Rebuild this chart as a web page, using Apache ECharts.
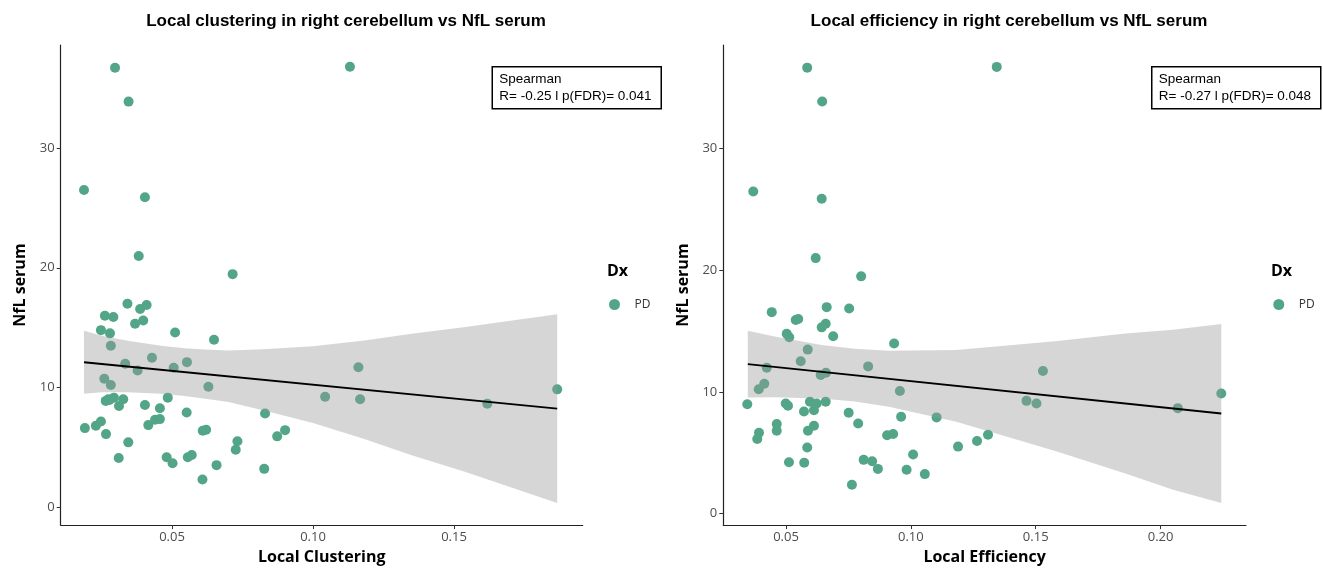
<!DOCTYPE html>
<html>
<head>
<meta charset="utf-8">
<script src="https://cdn.jsdelivr.net/npm/echarts@6/dist/echarts.min.js"></script>
<style>
  html, body { margin: 0; padding: 0; background: #fff; }
  #chart { width: 1323px; height: 570px; }
</style>
</head>
<body>
<div id="chart"></div>
<script>
// Left panel: local clustering (x) vs NfL serum (y)
const clusteringX = [0.0342, 0.0387, 0.0410, 0.0262, 0.0292, 0.0369, 0.0398, 0.0248, 0.0280, 0.0511,
    0.0649, 0.0283, 0.0334, 0.0429, 0.0553, 0.0378, 0.0506, 0.0260, 0.0283, 0.0629,
    0.0265, 0.0274, 0.0294, 0.0327, 0.0312, 0.0485, 0.0404, 0.0457, 0.0552, 0.0830,
    0.0440, 0.0457, 0.0416, 0.0191, 0.0230, 0.0248, 0.0266, 0.0609, 0.0621, 0.0873,
    0.0901, 0.0345, 0.0732, 0.0726, 0.0311, 0.0481, 0.0502, 0.0556, 0.0570, 0.0658,
    0.0827, 0.0608, 0.1043, 0.1161, 0.1167, 0.1618, 0.1866, 0.0298, 0.0346, 0.0188,
    0.0404, 0.0382, 0.0715, 0.1131, 0.0278];
const clusteringNfl = [17.0, 16.57, 16.9, 16.0, 15.9, 15.33, 15.6, 14.8, 14.53, 14.6,
    14.0, 13.5, 12.0, 12.49, 12.13, 11.43, 11.66, 10.75, 10.22, 10.08,
    8.9, 9.03, 9.17, 9.03, 8.48, 9.17, 8.56, 8.28, 7.93, 7.85,
    7.32, 7.38, 6.88, 6.63, 6.83, 7.18, 6.13, 6.41, 6.49, 5.94,
    6.46, 5.44, 5.53, 4.83, 4.14, 4.2, 3.7, 4.2, 4.39, 3.54,
    3.23, 2.35, 9.25, 11.71, 9.03, 8.67, 9.86, 36.68, 33.86, 26.49,
    25.88, 20.99, 19.47, 36.76, 8.98];

// lm fit and 95% band
const clusteringFitX = [0.0188, 0.1866];
const clusteringFitY = [12.12, 8.26];
const clusteringBandX = [0.0188, 0.025, 0.0343, 0.0462, 0.0545, 0.0618, 0.07, 0.0822, 0.1, 0.1182, 0.135, 0.1541, 0.1866];
const clusteringBandLow = [9.49, 9.63, 9.61, 9.49, 9.3, 9.08, 8.8, 8.11, 7.05, 5.73, 4.37, 2.96, 0.39];
const clusteringBandHigh = [14.75, 14.33, 13.91, 13.49, 13.28, 13.18, 13.1, 13.21, 13.45, 13.93, 14.5, 15.06, 16.13];

// Right panel: local efficiency (x) vs NfL serum (y)
const efficiencyX = [0.0443, 0.0663, 0.0753, 0.0539, 0.0549, 0.0643, 0.0659, 0.0503, 0.0513, 0.0689,
    0.0933, 0.0587, 0.0423, 0.0559, 0.0829, 0.0639, 0.0660, 0.0413, 0.0391, 0.0956,
    0.0345, 0.0499, 0.0508, 0.0596, 0.0623, 0.0659, 0.0572, 0.0612, 0.0751, 0.0961,
    0.1103, 0.0789, 0.0463, 0.0463, 0.0612, 0.0588, 0.0392, 0.0385, 0.0905, 0.0929,
    0.1189, 0.0585, 0.1265, 0.1309, 0.0512, 0.0573, 0.0811, 0.0845, 0.0868, 0.1009,
    0.0983, 0.1056, 0.0764, 0.1529, 0.1463, 0.1503, 0.2069, 0.2243, 0.0585, 0.0645,
    0.0369, 0.0643, 0.0619, 0.0801, 0.1344];
const efficiencyNfl = [16.55, 16.96, 16.85, 15.9, 15.98, 15.3, 15.6, 14.78, 14.48, 14.57,
    13.97, 13.47, 11.98, 12.52, 12.09, 11.38, 11.57, 10.67, 10.21, 10.07,
    8.98, 9.04, 8.85, 9.18, 9.04, 9.18, 8.39, 8.49, 8.28, 7.95,
    7.9, 7.4, 7.35, 6.81, 7.22, 6.81, 6.64, 6.12, 6.43, 6.53,
    5.5, 5.42, 5.96, 6.48, 4.22, 4.17, 4.41, 4.3, 3.67, 4.85,
    3.6, 3.24, 2.37, 11.71, 9.26, 9.04, 8.66, 9.86, 36.64, 33.86,
    26.46, 25.86, 20.99, 19.49, 36.7];

const efficiencyFitX = [0.0347, 0.2243];
const efficiencyFitY = [12.28, 8.22];
const efficiencyBandX = [0.0347, 0.045, 0.0642, 0.0775, 0.0912, 0.1182, 0.1588, 0.1859, 0.205, 0.2243];
const efficiencyBandLow = [9.53, 9.56, 9.45, 9.2, 8.77, 7.54, 5.07, 3.29, 1.95, 0.87];
const efficiencyBandHigh = [15.03, 14.56, 13.85, 13.55, 13.37, 13.44, 14.17, 14.79, 15.1, 15.57];

// Tick values
const clusteringTicks = [0.05, 0.10, 0.15];
const efficiencyTicks = [0.05, 0.10, 0.15, 0.20];
const nflTicks = [0, 10, 20, 30];

const POINT_COLOR = '#52A687';
const BAND_FILL = 'rgba(153,153,153,0.4)';
const TICK_FONT = { fontFamily: 'Open Sans', fontSize: 13, color: '#4D4D4D' };
const AXIS_TITLE = { fontFamily: 'Open Sans', fontSize: 16, fontWeight: 'bold', color: '#000' };
const TITLE_FONT = { fontFamily: 'Liberation Sans', fontSize: 17, fontWeight: 'bold', color: '#000' };

const pairs = (xs, ys) => xs.map((x, i) => [x, ys[i]]);

function bandRenderer(bx, lo, hi) {
    return (params, api) => {
        if (params.dataIndex !== 0) return null;
        const pts = [];
        bx.forEach((x, i) => pts.push(api.coord([x, hi[i]])));
        for (let i = bx.length - 1; i >= 0; i--) pts.push(api.coord([bx[i], lo[i]]));
        return { type: 'polygon', shape: { points: pts }, style: { fill: BAND_FILL } };
    };
}

function xAxisFor(idx, name, min, max, ticks) {
    return {
        gridIndex: idx, type: 'value', min: min, max: max,
        name: name, nameLocation: 'middle', nameGap: 22, nameTextStyle: AXIS_TITLE,
        axisLine: { onZero: false, lineStyle: { color: '#222', width: 1.2 } },
        axisTick: { show: true, length: 4, customValues: ticks, lineStyle: { color: '#333' } },
        axisLabel: { customValues: ticks, margin: 6, formatter: v => v.toFixed(2), ...TICK_FONT },
        splitLine: { show: false }
    };
}

function yAxisFor(idx, min, max) {
    return {
        gridIndex: idx, type: 'value', min: min, max: max,
        name: 'NfL serum', nameLocation: 'middle', nameGap: 32, nameTextStyle: AXIS_TITLE,
        axisLine: { show: true, onZero: false, lineStyle: { color: '#222', width: 1.2 } },
        axisTick: { show: true, length: 4, customValues: nflTicks, lineStyle: { color: '#333' } },
        axisLabel: { customValues: nflTicks, margin: 6, ...TICK_FONT },
        splitLine: { show: false }
    };
}

function legendFor(left) {
    return {
        data: ['PD'], left: left, top: 293.5, icon: 'circle',
        itemWidth: 30, itemHeight: 11, selectedMode: false,
        textStyle: { fontFamily: 'Open Sans', fontSize: 12, color: '#333' }
    };
}

function statBox(x, label) {
    return {
        type: 'group', left: x, top: 66,
        children: [
            { type: 'rect', shape: { x: 0, y: 0, width: 169, height: 42 },
              style: { fill: '#fff', stroke: '#000', lineWidth: 1.5 } },
            { type: 'text', x: 7, y: 6,
              style: { text: 'Spearman', font: '13.5px "Liberation Sans"', fill: '#000' } },
            { type: 'text', x: 7, y: 23,
              style: { text: label, font: '13.5px "Liberation Sans"', fill: '#000' } }
        ]
    };
}

const chart = echarts.init(document.getElementById('chart'));
chart.setOption({
    animation: false,
    backgroundColor: '#fff',
    title: [
        { text: 'Local clustering in right cerebellum vs NfL serum', left: 341, top: 8, textAlign: 'center',
          textStyle: TITLE_FONT },
        { text: 'Local efficiency in right cerebellum vs NfL serum', left: 1004, top: 8, textAlign: 'center',
          textStyle: TITLE_FONT }
    ],
    grid: [
        { left: 60.7, top: 45, width: 522, height: 483.3 },
        { left: 723.3, top: 45, width: 522.7, height: 483.3 }
    ],
    xAxis: [
        xAxisFor(0, 'Local Clustering', 0.01053, 0.19564, clusteringTicks),
        xAxisFor(1, 'Local Efficiency', 0.0249, 0.2342, efficiencyTicks)
    ],
    yAxis: [
        yAxisFor(0, -1.46, 38.58),
        yAxisFor(1, -0.95, 38.5)
    ],
    legend: [legendFor(604), legendFor(1268.3)],
    graphic: [
        { type: 'text', left: 607, top: 263,
          style: { text: 'Dx', font: 'bold 16px "Open Sans"', fill: '#000' } },
        { type: 'text', left: 1271, top: 263,
          style: { text: 'Dx', font: 'bold 16px "Open Sans"', fill: '#000' } },
        statBox(491.5, 'R= -0.25 l p(FDR)= 0.041'),
        statBox(1151, 'R= -0.27 l p(FDR)= 0.048')
    ],
    series: [
        { name: 'PD', type: 'scatter', xAxisIndex: 0, yAxisIndex: 0, z: 2,
          symbolSize: 10, itemStyle: { color: POINT_COLOR, opacity: 1 },
          data: pairs(clusteringX, clusteringNfl) },
        { type: 'custom', xAxisIndex: 0, yAxisIndex: 0, z: 3, silent: true,
          renderItem: bandRenderer(clusteringBandX, clusteringBandLow, clusteringBandHigh),
          encode: { x: 0, y: 1 },
          data: clusteringBandX.map((x, i) => [x, clusteringBandLow[i], clusteringBandHigh[i]]) },
        { type: 'line', xAxisIndex: 0, yAxisIndex: 0, z: 4, silent: true, symbol: 'none',
          lineStyle: { color: '#000', width: 1.8 },
          data: pairs(clusteringFitX, clusteringFitY) },

        { name: 'PD', type: 'scatter', xAxisIndex: 1, yAxisIndex: 1, z: 2,
          symbolSize: 10, itemStyle: { color: POINT_COLOR, opacity: 1 },
          data: pairs(efficiencyX, efficiencyNfl) },
        { type: 'custom', xAxisIndex: 1, yAxisIndex: 1, z: 3, silent: true,
          renderItem: bandRenderer(efficiencyBandX, efficiencyBandLow, efficiencyBandHigh),
          encode: { x: 0, y: 1 },
          data: efficiencyBandX.map((x, i) => [x, efficiencyBandLow[i], efficiencyBandHigh[i]]) },
        { type: 'line', xAxisIndex: 1, yAxisIndex: 1, z: 4, silent: true, symbol: 'none',
          lineStyle: { color: '#000', width: 1.8 },
          data: pairs(efficiencyFitX, efficiencyFitY) }
    ]
});
</script>
</body>
</html>
